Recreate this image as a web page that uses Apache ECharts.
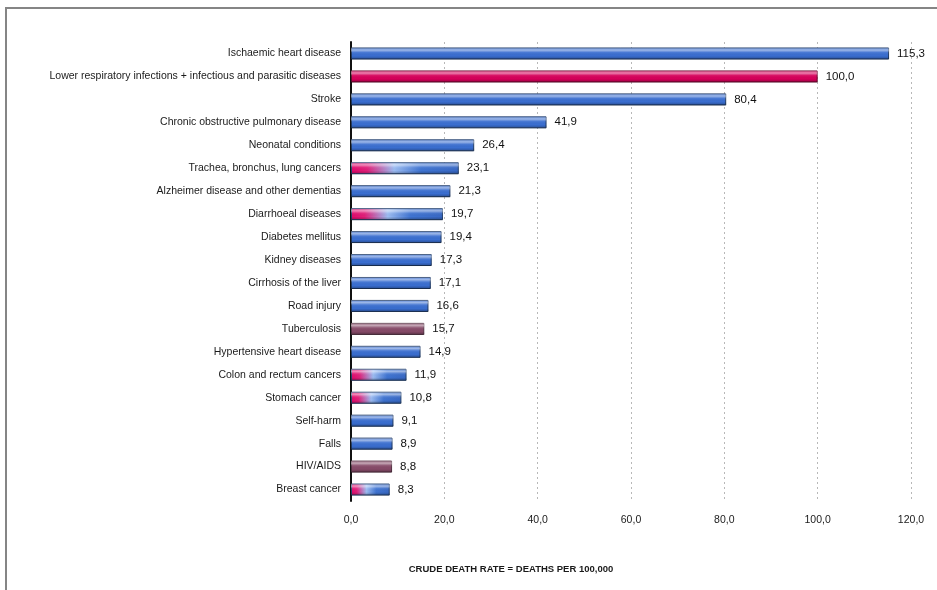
<!DOCTYPE html>
<html>
<head>
<meta charset="utf-8">
<script src="https://cdn.jsdelivr.net/npm/echarts@6/dist/echarts.min.js"></script>
<style>
  html, body { margin: 0; padding: 0; background: #fff; }
  #frame { position: absolute; left: 5px; top: 7px; width: 932px; height: 583px;
           border-left: 2px solid #858585; border-top: 2px solid #858585; }
  #chart { position: absolute; left: 0; top: 0; width: 937px; height: 590px; }
</style>
</head>
<body>
<div id="frame"></div>
<div id="chart"></div>
<script>
// 死因分类
const causes = [
    'Ischaemic heart disease',
    'Lower respiratory infections + infectious and parasitic diseases',
    'Stroke',
    'Chronic obstructive pulmonary disease',
    'Neonatal conditions',
    'Trachea, bronchus, lung cancers',
    'Alzheimer disease and other dementias',
    'Diarrhoeal diseases',
    'Diabetes mellitus',
    'Kidney diseases',
    'Cirrhosis of the liver',
    'Road injury',
    'Tuberculosis',
    'Hypertensive heart disease',
    'Colon and rectum cancers',
    'Stomach cancer',
    'Self-harm',
    'Falls',
    'HIV/AIDS',
    'Breast cancer'
];

// 粗死亡率 (每十万人)
const rates = [115.3, 100.0, 80.4, 41.9, 26.4, 23.1, 21.3, 19.7, 19.4, 17.3,
               17.1, 16.6, 15.7, 14.9, 11.9, 10.8, 9.1, 8.9, 8.8, 8.3];

// 分组: blue / pink / mauve / mixed
const groups = ['blue', 'pink', 'blue', 'blue', 'blue', 'mixed', 'blue', 'mixed', 'blue', 'blue',
                'blue', 'blue', 'mauve', 'blue', 'mixed', 'mixed', 'blue', 'blue', 'mauve', 'mixed'];

const xTicks = [0, 20, 40, 60, 80, 100, 120];

// 颜色
function fillFor(group) {
    if (group === 'pink') {
        return { color: '#d6005a', border: '#6e0a30' };
    }
    if (group === 'mauve') {
        return { color: '#864a68', border: '#553043' };
    }
    if (group === 'mixed') {
        return {
            color: new echarts.graphic.LinearGradient(0, 0, 1, 0, [
                { offset: 0, color: '#e0086a' },
                { offset: 0.15, color: '#e0207a' },
                { offset: 0.4, color: '#9cbcf2' },
                { offset: 0.65, color: '#3f74d2' },
                { offset: 1, color: '#3868c4' }
            ]),
            border: '#23406e'
        };
    }
    return { color: '#3a6ed0', border: '#1f3a66' };
}

const fmt = v => v.toFixed(1).replace('.', ',');

const chart = echarts.init(document.getElementById('chart'));

const option = {
    animation: false,
    textStyle: { fontFamily: 'Liberation Sans, Arial, sans-serif' },
    title: {
        text: 'CRUDE DEATH RATE = DEATHS PER 100,000',
        left: 506,
        top: 559,
        textAlign: 'center',
        textStyle: { fontSize: 9.5, fontWeight: 'bold', color: '#1a1a1a' }
    },
    grid: {
        left: 351,
        right: 26,
        top: 42,
        bottom: 89
    },
    xAxis: {
        type: 'value',
        min: xTicks[0],
        max: xTicks[xTicks.length - 1],
        interval: 20,
        axisLine: { show: false },
        axisTick: { show: false },
        splitLine: {
            show: true,
            lineStyle: { color: '#b8b8b8', type: [2, 3], width: 1 }
        },
        axisLabel: {
            color: '#1a1a1a',
            fontSize: 10.5,
            margin: 14,
            formatter: v => fmt(v)
        }
    },
    yAxis: {
        type: 'category',
        inverse: true,
        data: causes,
        axisLine: { show: true, lineStyle: { color: '#111', width: 2 } },
        axisTick: { show: false },
        axisLabel: { color: '#1a1a1a', fontSize: 10.5, margin: 10 }
    },
    series: [
        {
            type: 'bar',
            barWidth: 12,
            data: rates.map((v, i) => {
                const f = fillFor(groups[i]);
                return {
                    value: v,
                    itemStyle: { color: f.color, borderColor: f.border, borderWidth: 1 }
                };
            }),
            label: {
                show: true,
                position: 'right',
                distance: 8,
                color: '#111',
                fontSize: 11.5,
                formatter: p => fmt(p.value)
            },
            z: 2
        },
        {
            // 高光层
            type: 'bar',
            barWidth: 12,
            barGap: '-100%',
            silent: true,
            data: rates,
            itemStyle: {
                color: new echarts.graphic.LinearGradient(0, 0, 0, 1, [
                    { offset: 0, color: 'rgba(255,255,255,0.15)' },
                    { offset: 0.22, color: 'rgba(255,255,255,0.5)' },
                    { offset: 0.42, color: 'rgba(255,255,255,0.08)' },
                    { offset: 0.7, color: 'rgba(0,0,0,0)' },
                    { offset: 1, color: 'rgba(0,0,0,0.3)' }
                ])
            },
            z: 3
        }
    ]
};

chart.setOption(option);

window.addEventListener('resize', function() {
    chart.resize();
});
</script>
</body>
</html>
